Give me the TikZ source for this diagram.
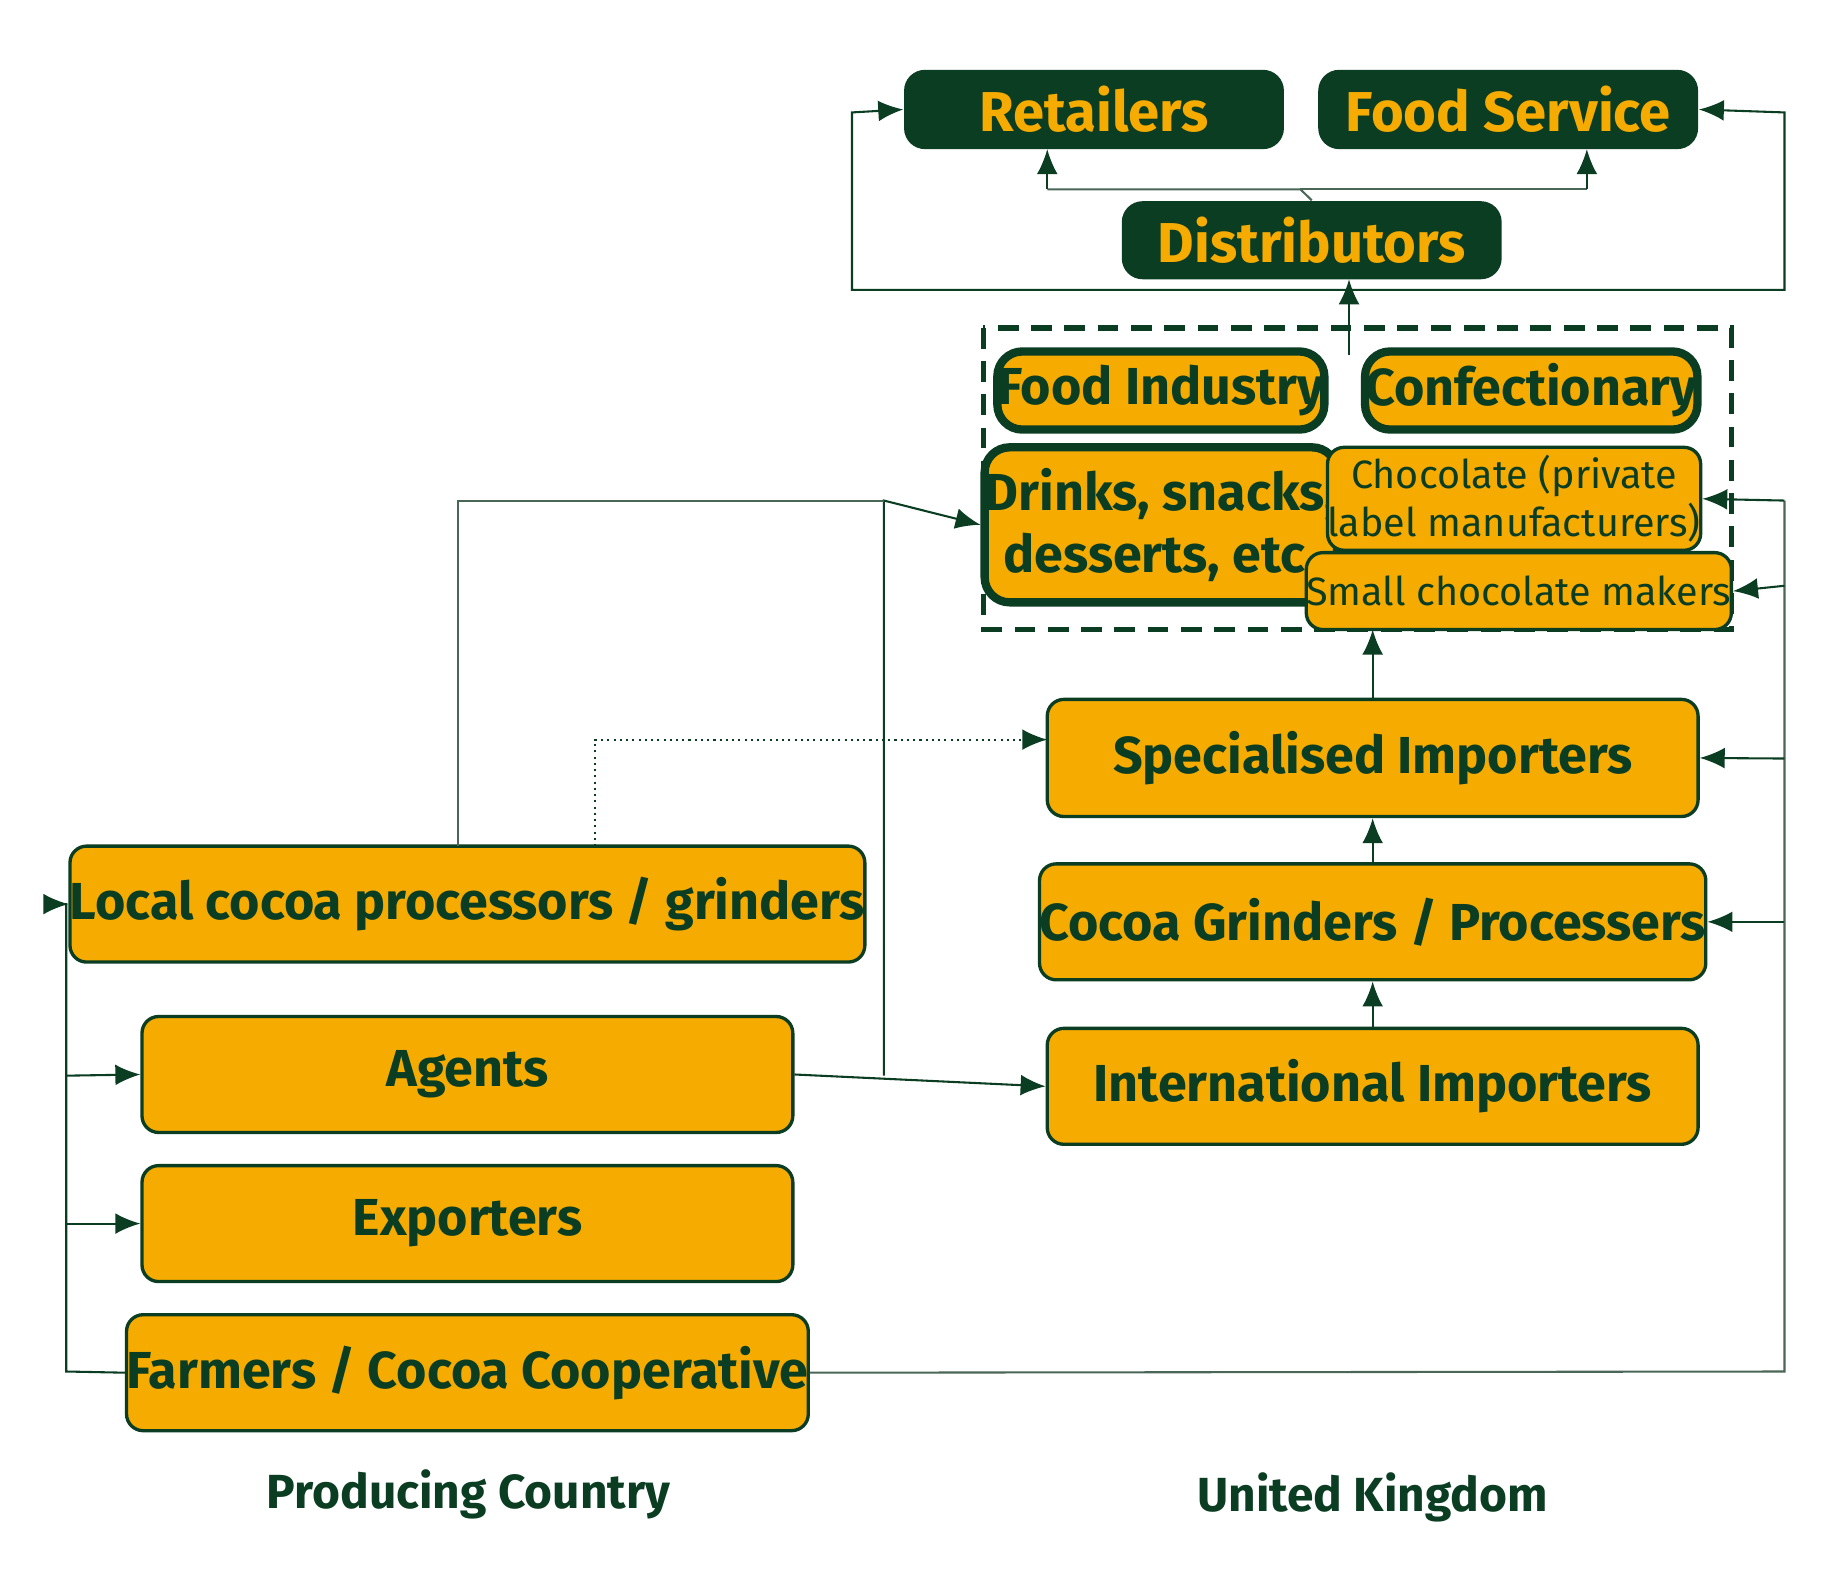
\documentclass[tikz,border=0pt]{standalone}
\usepackage{fontspec}
\setmainfont{Fira Sans}
\usetikzlibrary{arrows.meta}
\definecolor{dg}{HTML}{0B3D22}
\definecolor{og}{HTML}{F5AB00}
\definecolor{ln}{HTML}{4A6656}
\newcommand\bx[7]{\node[#6, minimum width={(#4-#2)*0.01cm}, minimum height={(#5-#3)*0.01cm}] (#1) at ({(#2+#4)/2},{(#3+#5)/2}) {#7};}
\begin{document}
\begin{tikzpicture}[x=0.01cm,y=-0.01cm,
 ob/.style={draw=dg,fill=og,rounded corners=4pt,line width=0.8pt,text=dg,font=\fontsize{12.5}{15}\selectfont\bfseries,inner sep=0pt,align=center},
 ot/.style={ob,line width=2pt,rounded corners=6pt},
 os/.style={ob,font=\fontsize{9.5}{11.5}\selectfont},
 db/.style={fill=dg,rounded corners=5pt,text=og,font=\fontsize{13.5}{16}\selectfont\bfseries,inner sep=0pt},
 c/.style={draw=ln,line width=0.5pt},
 a/.style={c,-{Latex[length=6pt,width=5pt]},dg}]
\useasboundingbox (0,0) rectangle (1560,1326);
\bx{ret}{764}{59}{1085}{126}{db}{Retailers}
\bx{fs}{1114}{59}{1435}{126}{db}{Food Service}
\bx{dis}{948}{170}{1269}{236}{db}{Distributors}
\draw[dg,line width=1.3pt,dash pattern=on 5pt off 3pt] (831,277) rectangle (1463,532);
\coordinate (dtop) at (1140,300);
\bx{fi}{852}{297}{1110}{363}{ot}{Food Industry}
\bx{co}{1165}{297}{1423}{363}{ot}{Confectionary}
\bx{dr}{852}{378}{1110}{509}{ot}{Drinks, snacks,\\desserts, etc.}
\bx{ch}{1126}{378}{1433}{465}{os}{Chocolate (private\\label manufacturers)}
\bx{sm}{1126}{467}{1441}{532}{os}{Small chocolate makers}
\bx{sp}{885}{591}{1435}{690}{ob}{Specialised Importers}
\bx{cg}{885}{730}{1435}{828}{ob}{Cocoa Grinders / Processers}
\bx{ii}{885}{869}{1435}{967}{ob}{International Importers}
\bx{lo}{120}{715}{670}{813}{ob}{Local cocoa processors / grinders}
\bx{ag}{120}{859}{670}{957}{ob}{Agents}
\bx{ex}{120}{985}{670}{1083}{ob}{Exporters}
\bx{fa}{120}{1111}{670}{1209}{ob}{Farmers / Cocoa Cooperative}
\node[text=dg,font=\fontsize{11.5}{14}\selectfont\bfseries] (pc) at (396,1263) {Producing Country};
\node[text=dg,font=\fontsize{11.5}{14}\selectfont\bfseries] (uk) at (1160,1265) {United Kingdom};
% distributors
\draw[c] (dis.north) -- (1099,160) -- (885,160);
\draw[c] (1099,160) -- (1341,160);
\draw[a] (885,160) -- (885,126);
\draw[a] (1341,160) -- (1341,126);
\draw[a] (dtop) -- (1140,236);
\draw[a] (1140,245) -- (720,245) -- (720,95) -- (ret.west);
\draw[a] (1140,245) -- (1508,245) -- (1508,95) -- (fs.east);
% farmers
\draw[a] (fa.west) -- (56,1159) -- (56,764) -- (lo.west);
\draw[a] (56,909) -- (ag.west);
\draw[a] (56,1034) -- (ex.west);
\draw[c] (fa.east) -- (1508,1159) -- (1508,423);
\draw[a] (1508,423) -- (ch.east);
\draw[a] (1508,495) -- (sm.east);
\draw[a] (1508,641) -- (sp.east);
\draw[a] (1508,779) -- (cg.east);
% agents
\draw[a] (ag.east) -- (ii.west);
\draw[a] (747,909) -- (747,423) -- (dr.west);
\draw[c] (387,715) -- (387,423) -- (747,423);
\draw[a,densely dotted] (503,715) -- (503,625) -- (885,625);
\draw[a] (ii.north) -- (cg.south);
\draw[a] (cg.north) -- (sp.south);
\draw[a] (sp.north) -- (1160,532);
\end{tikzpicture}
\end{document}
